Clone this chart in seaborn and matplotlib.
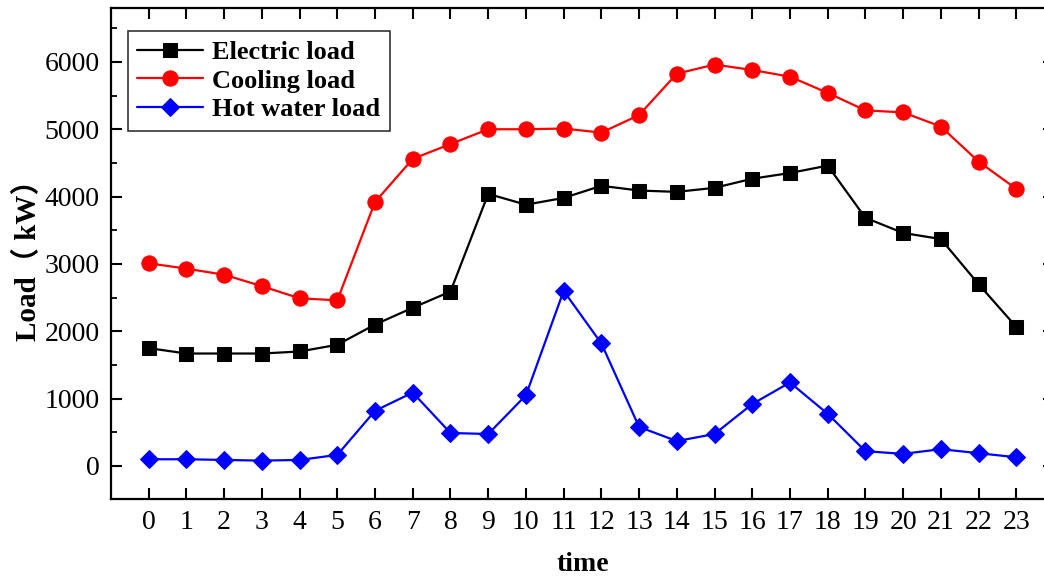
import numpy as np
import pandas as pd
import matplotlib
matplotlib.use("Agg")
import matplotlib.pyplot as plt
import seaborn as sns
from matplotlib.ticker import MultipleLocator

hours = list(range(24))
electric = [1750, 1670, 1670, 1670, 1700, 1800, 2100, 2350, 2590, 4040, 3880, 3980,
            4160, 4090, 4070, 4130, 4265, 4350, 4460, 3685, 3460, 3370, 2700, 2065]
cooling = [3010, 2930, 2840, 2670, 2490, 2460, 3920, 4560, 4780, 5000, 5000, 5010,
           4950, 5210, 5825, 5960, 5880, 5780, 5540, 5280, 5250, 5040, 4520, 4115]
hot_water = [100, 100, 90, 80, 90, 165, 820, 1090, 490, 475, 1050, 2600,
             1820, 580, 370, 475, 920, 1240, 775, 220, 180, 250, 190, 130]

series_names = ["Electric load", "Cooling load", "Hot water load"]
series_colors = ["black", "#ff0000", "#0000ff"]
series_markers = ["s", "o", "D"]
series_sizes = [10, 11, 9.5]

sns.set_theme(style="ticks")
plt.rcParams["font.family"] = ["Liberation Serif", "Noto Sans CJK SC"]
for key in ["text.color", "axes.labelcolor", "xtick.color", "ytick.color", "axes.edgecolor"]:
    plt.rcParams[key] = "black"

fig = plt.figure(figsize=(10.44, 5.8), dpi=100)
ax = fig.add_axes([111 / 1044, 1 - 499 / 580, (1054 - 111) / 1044, (499 - 8) / 580])

for name, vals, col, mk, ms in zip(series_names, [electric, cooling, hot_water],
                                   series_colors, series_markers, series_sizes):
    sns.lineplot(x=hours, y=vals, ax=ax, color=col, marker=mk, markersize=ms,
                 markeredgecolor=col, linewidth=1.6, label=name)

ax.set_xlim(-1, 24)
ax.set_ylim(-490, 6800)
ax.set_xticks(hours)
ax.set_xticklabels([str(h) for h in hours])
ax.yaxis.set_minor_locator(MultipleLocator(500))
ax.set_yticks([0, 1000, 2000, 3000, 4000, 5000, 6000])

ax.tick_params(axis="both", which="major", direction="in", length=8, width=1.5,
               labelsize=20, colors="black", pad=8)
ax.tick_params(axis="y", which="minor", direction="in", length=4.5, width=1.3)
ax.tick_params(top=True, right=True, which="major")
ax.tick_params(axis="y", which="minor", right=False)
for sp in ax.spines.values():
    sp.set_visible(True)
    sp.set_linewidth(1.6)
    sp.set_color("black")

ax.set_xlabel("time", fontsize=20, fontweight="bold", labelpad=12)
ax.set_ylabel("Load（ kW）", fontsize=21, fontweight="bold", labelpad=2)

leg = ax.legend(loc="upper left", bbox_to_anchor=(0.018, 0.953),
                prop={"weight": "bold", "size": 19}, frameon=True, fancybox=False,
                edgecolor="black", borderpad=0.35, labelspacing=0.2,
                handlelength=2.5, handletextpad=0.35, borderaxespad=0)
leg.get_frame().set_linewidth(1.2)

fig.savefig("out.png", dpi=100)
